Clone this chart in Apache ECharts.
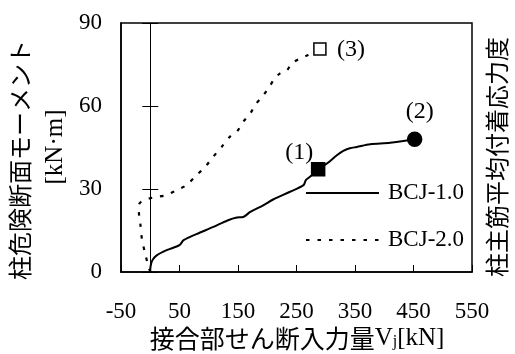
<!DOCTYPE html>
<html>
<head>
<meta charset="utf-8">
<script src="https://cdn.jsdelivr.net/npm/echarts@6/dist/echarts.min.js"></script>
<style>
html,body{margin:0;padding:0;background:#fff;}
#c{width:515px;height:354px;}
</style>
</head>
<body>
<div id="c"></div>
<script>
// ---- data ----
var seriesNames = ['BCJ-1.0', 'BCJ-2.0'];
var bcj1X = [0, 0.5, 3.5, 11, 28, 50, 57, 79, 108, 133, 148, 159, 171, 193, 210, 239, 262, 266, 273, 287, 302, 319, 330, 341, 353, 376, 410, 452];
var bcj1Y = [0, 2, 4.2, 6, 7.9, 9.7, 11.5, 13.7, 16.3, 18.7, 19.7, 19.9, 21.7, 24.1, 26.2, 29, 31.4, 33.2, 34.4, 37.1, 39.2, 42.2, 43.8, 44.7, 45.2, 46.2, 46.7, 48];
var bcj2X = [0, -5, -9, -14, -17, -19.5, -19, -15, -6, 5, 15, 28, 45, 62, 79, 94, 105, 122, 136, 148, 159, 171, 179, 191, 202, 213, 222, 233, 242, 256, 270, 290];
var bcj2Y = [0, 3.5, 7, 11.5, 17.5, 22, 24.5, 25.5, 26.3, 26.9, 27.3, 27.8, 29.6, 31.4, 35, 38, 41, 45.2, 48.9, 50.7, 54.3, 57.3, 60.3, 63.3, 66.4, 70, 71.8, 72.7, 75.4, 77.2, 78.4, 80.6];
var markerX = [287, 452, 290];
var markerY = [37.1, 48, 80.6];
var markerLabels = ['(1)', '(2)', '(3)'];
var xMin = -50, xMax = 550, xStep = 100;
var yMin = 0, yMax = 90, yStep = 30;
var yTitle = '柱危険断面モーメント';
var yUnit = '[kN·m]';
var y2Title = '柱主筋平均付着応力度';
var xTitleJa = '接合部せん断入力量';

// ---- build ----
function pairs(xs, ys) { return xs.map(function (x, i) { return [x, ys[i]]; }); }
var SERIF = '"Liberation Serif", "Times New Roman", serif';
var CJK = '"Noto Sans CJK JP", sans-serif';

var markerSymbols = ['rect', 'circle', 'rect'];
var markerFill = ['#000', '#000', '#fff'];
var markerSize = [13, 14, 12];
var labelOffsets = [[-19, -17], [5, -27], [31, 1]];
var markerData = markerX.map(function (x, i) {
  return {
    value: [x, markerY[i]],
    symbol: markerSymbols[i],
    symbolSize: markerSize[i],
    itemStyle: { color: markerFill[i], borderColor: '#000', borderWidth: 1.5, opacity: 1 },
    label: { show: true, formatter: markerLabels[i], position: 'inside', offset: labelOffsets[i],
      color: '#000', fontFamily: SERIF, fontSize: 24 }
  };
});

var chart = echarts.init(document.getElementById('c'), null, { renderer: 'canvas' });
var axisLabelStyle = { color: '#000', fontFamily: SERIF, fontSize: 23 };
chart.setOption({
  animation: false,
  backgroundColor: '#fff',
  grid: { left: 121, top: 23, right: 43, bottom: 82, show: true, borderColor: '#000', borderWidth: 1.5 },
  legend: {
    data: seriesNames,
    orient: 'vertical',
    left: 305, top: 181,
    padding: 0,
    itemWidth: 73, itemHeight: 14, itemGap: 23,
    itemStyle: { opacity: 0 },
    textStyle: { color: '#000', fontFamily: SERIF, fontSize: 23, lineHeight: 24, padding: [0, 0, 0, 4] }
  },
  xAxis: {
    type: 'value', min: xMin, max: xMax, interval: xStep,
    axisLine: { show: true, onZero: false, lineStyle: { color: '#000', width: 1.5 } },
    axisTick: { show: true, inside: true, length: 7, lineStyle: { color: '#000', width: 1 } },
    axisLabel: Object.assign({ margin: 28 }, axisLabelStyle),
    splitLine: { show: false }
  },
  yAxis: [
    {
      type: 'value', min: yMin, max: yMax, interval: yStep, position: 'left',
      axisLine: { show: true, onZero: false, lineStyle: { color: '#000', width: 1.5 } },
      axisTick: { show: false },
      axisLabel: Object.assign({ margin: 19 }, axisLabelStyle),
      splitLine: { show: false }
    },
    {
      type: 'value', min: yMin, max: yMax, interval: yStep, position: 'left',
      axisLine: { show: true, onZero: true, onZeroAxisIndex: 0, lineStyle: { color: '#000', width: 1 } },
      axisTick: { show: true, inside: false, length: 8, lineStyle: { color: '#000', width: 1 } },
      axisLabel: { show: false },
      splitLine: { show: false }
    },
    {
      type: 'value', min: yMin, max: yMax, interval: yStep, position: 'left',
      axisLine: { show: false, onZero: true, onZeroAxisIndex: 0 },
      axisTick: { show: true, inside: true, length: 8, lineStyle: { color: '#000', width: 1 } },
      axisLabel: { show: false },
      splitLine: { show: false }
    }
  ],
  series: [
    {
      name: seriesNames[0], type: 'line', data: pairs(bcj1X, bcj1Y),
      symbol: 'none', smooth: 0.3, z: 3,
      lineStyle: { color: '#000', width: 2 },
      itemStyle: { color: '#000' }
    },
    {
      name: seriesNames[1], type: 'line', data: pairs(bcj2X, bcj2Y),
      symbol: 'none', smooth: 0.3, z: 3,
      lineStyle: { color: '#000', width: 2.2, type: [3.5, 8] },
      itemStyle: { color: '#000' }
    },
    {
      name: 'markers', type: 'scatter', data: markerData, z: 5,
      itemStyle: { opacity: 1 }
    }
  ],
  graphic: [
    { type: 'text', x: 20, y: 160, rotation: Math.PI / 2,
      style: { text: yTitle, fill: '#000', font: '24px ' + CJK, align: 'center', verticalAlign: 'middle' } },
    { type: 'text', x: 55, y: 147, rotation: Math.PI / 2,
      style: { text: yUnit, fill: '#000', font: '25px ' + SERIF, align: 'center', verticalAlign: 'middle' } },
    { type: 'text', x: 497, y: 157, rotation: Math.PI / 2,
      style: { text: y2Title, fill: '#000', font: '24px ' + CJK, align: 'center', verticalAlign: 'middle' } },
    { type: 'text', x: 297, y: 338,
      style: {
        text: '{a|' + xTitleJa + '}{b|V}{s|j}{b|[kN]}',
        align: 'center', verticalAlign: 'middle',
        rich: {
          a: { fontFamily: CJK, fontSize: 25, color: '#000' },
          b: { fontFamily: SERIF, fontSize: 25, color: '#000' },
          s: { fontFamily: SERIF, fontSize: 16, color: '#000', padding: [8, 0, 0, 0] }
        }
      } }
  ]
});
</script>
</body>
</html>
